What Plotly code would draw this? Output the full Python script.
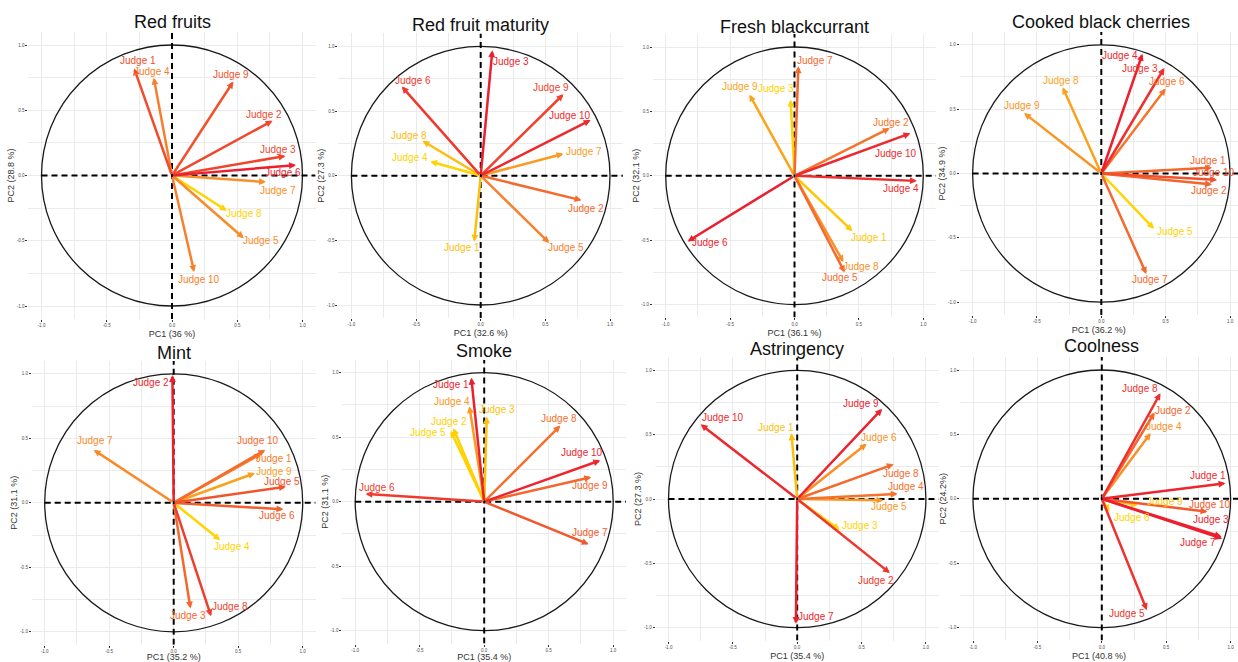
import plotly.graph_objects as go
from plotly.colors import sample_colorscale

W, H = 1238, 662

judges = ["Judge 1", "Judge 2", "Judge 3", "Judge 4", "Judge 5",
          "Judge 6", "Judge 7", "Judge 8", "Judge 9", "Judge 10"]

attributes = ["Red fruits", "Red fruit maturity", "Fresh blackcurrant",
              "Cooked black cherries", "Mint", "Smoke", "Astringency", "Coolness"]

pc1_titles = ["PC1 (36 %)", "PC1 (32.6 %)", "PC1 (36.1 %)", "PC1 (36.2 %)",
              "PC1 (35.2 %)", "PC1 (35.4 %)", "PC1 (35.4 %)", "PC1 (40.8 %)"]
pc2_titles = ["PC2 (28.8 %)", "PC2 (27.3 %)", "PC2 (32.1 %)", "PC2 (34.9 %)",
              "PC2 (31.1 %)", "PC2 (31.1 %)", "PC2 (27.3 %)", "PC2 (24.2%)"]

tick_vals = [-1.0, -0.5, 0.0, 0.5, 1.0]
tick_text = ["-1.0", "-0.5", "0.0", "0.5", "1.0"]

# Variable coordinates (correlations with PC1 / PC2), judges 1..10
red_fruits_pc1 = [-0.29, 0.77, 0.87, -0.14, 0.55, 0.95, 0.72, 0.42, 0.47, 0.17]
red_fruits_pc2 = [0.82, 0.42, 0.15, 0.75, -0.48, 0.08, -0.05, -0.27, 0.72, -0.74]

maturity_pc1 = [-0.05, 0.78, 0.09, -0.39, 0.53, -0.61, 0.64, -0.45, 0.64, 0.85]
maturity_pc2 = [-0.51, -0.19, 0.97, 0.11, -0.52, 0.69, 0.17, 0.27, 0.63, 0.43]

blackcurrant_pc1 = [0.45, 0.74, -0.03, 0.95, 0.39, -0.83, 0.03, 0.38, -0.35, 0.90]
blackcurrant_pc2 = [-0.43, 0.37, 0.59, -0.04, -0.75, -0.51, 0.85, -0.67, 0.63, 0.33]

cherries_pc1 = [0.86, 0.86, 0.49, 0.32, 0.41, 0.50, 0.35, -0.30, -0.60, 0.90]
cherries_pc2 = [0.045, -0.085, 0.82, 0.93, -0.43, 0.66, -0.78, 0.67, 0.47, -0.05]

mint_pc1 = [0.68, -0.01, 0.13, 0.36, 0.87, 0.85, -0.62, 0.29, 0.63, 0.71]
mint_pc2 = [0.38, 0.99, -0.82, -0.29, 0.125, -0.05, 0.41, -0.88, 0.23, 0.41]

smoke_pc1 = [-0.10, -0.24, 0.02, -0.115, -0.26, -0.92, 0.81, 0.59, 0.83, 0.90]
smoke_pc2 = [0.96, 0.57, 0.66, 0.74, 0.55, 0.06, -0.33, 0.59, 0.19, 0.32]

astringency_pc1 = [-0.045, 0.72, 0.33, 0.78, 0.67, 0.54, -0.01, 0.75, 0.66, -0.75]
astringency_pc2 = [0.51, -0.575, -0.24, 0.04, -0.01, 0.43, -0.97, 0.27, 0.70, 0.58]

coolness_pc1 = [0.96, 0.41, 0.93, 0.38, 0.35, 0.06, 0.935, 0.455, 0.28, 0.82]
coolness_pc2 = [0.12, 0.67, -0.295, 0.51, -0.865, -0.10, -0.31, 0.82, -0.05, -0.10]

coords = [
    (red_fruits_pc1, red_fruits_pc2),
    (maturity_pc1, maturity_pc2),
    (blackcurrant_pc1, blackcurrant_pc2),
    (cherries_pc1, cherries_pc2),
    (mint_pc1, mint_pc2),
    (smoke_pc1, smoke_pc2),
    (astringency_pc1, astringency_pc2),
    (coolness_pc1, coolness_pc2),
]

# Panel geometry in pixels: circle centre (cx, cy) and unit radius r
panels = [
    (172.0, 175.5, 130.5), (480.7, 175.7, 129.3), (794.5, 175.8, 128.8), (1101.3, 173.5, 128.7),
    (173.7, 502.8, 129.0), (484.2, 501.7, 129.0), (797.2, 499.0, 128.7), (1101.8, 498.8, 128.8),
]
title_y = [22, 25, 27, 22, 353, 351, 349, 346]

# Repelled label offsets (px, +dy downwards) from each arrow tip
label_shift = [
    [(4, -8), (-8, -6), (-8, -6), (-2, -6), (17, 2), (-13, 7), (12, 8), (17, 3), (-2, -7), (5, 7)],
    [(-12, 6), (4, 8), (19, 11), (-20, -4), (17, 5), (11, -6), (21, -2), (-14, -5), (-12, -7), (-21, -5)],
    [(17, 6), (1, -6), (-15, -11), (-16, 8), (-5, 5), (22, 1), (17, -6), (18, 4), (-9, -8), (-14, 20)],
    [(-4, -7), (-3, 6), (-24, 1), (-22, 2), (21, 3), (1, -7), (4, 6), (-2, -7), (-2, -8), (-3, -7)],
    [(13, 5), (-21, 7), (-2, 7), (12, 6), (-4, -5), (-6, 6), (1, -9), (19, -10), (19, -2), (-7, -9)],
    [(-20, 7), (-4, -7), (10, -7), (-17, -5), (-23, 2), (11, -6), (1, -12), (-1, -7), (-1, 8), (-18, -8)],
    [(-15, -6), (-14, 7), (20, -4), (8, -7), (6, 6), (12, -6), (20, -7), (7, 9), (-21, -5), (22, -7)],
    [(-17, -8), (18, -2), (-11, -17), (13, -7), (-20, 3), (22, 6), (-24, 4), (-20, -5), (27, -4), (3, -7)],
]

gradient = [[0.0, "#FFD400"], [0.45, "#F8892C"], [1.0, "#EC1F2E"]]
FONT = "Liberation Sans, Arial, Helvetica, sans-serif"
GRID = "#EBEBEB"

fig = go.Figure()
annotations = []
shapes = []

for i, name in enumerate(attributes):
    sfx = "" if i == 0 else str(i + 1)
    xa, ya = "x" + sfx, "y" + sfx
    cx, cy, r = panels[i]
    left, right = cx - 1.1 * r, min(cx + 1.1 * r, W)
    top, bottom = cy - 1.1 * r, cy + 1.1 * r
    xr = [(left - cx) / r, (right - cx) / r]
    yr = [(cy - bottom) / r, (cy - top) / r]

    common = dict(
        tickvals=tick_vals, ticktext=tick_text, ticks="outside", ticklen=2,
        tickwidth=1, tickcolor="#333333",
        tickfont=dict(size=4.5, color="#4D4D4D", family=FONT),
        showgrid=True, gridcolor=GRID, gridwidth=0.8, zeroline=False, showline=False,
        minor=dict(tickvals=[-0.75, -0.25, 0.25, 0.75], showgrid=True,
                   gridcolor=GRID, gridwidth=0.6, ticks=""),
        fixedrange=True, automargin=False,
    )
    fig.layout["xaxis" + sfx] = dict(
        common, domain=[left / W, right / W], range=xr, anchor=ya,
        title=dict(text=pc1_titles[i], font=dict(size=9, color="#333333", family=FONT), standoff=3),
    )
    fig.layout["yaxis" + sfx] = dict(
        common, domain=[1 - bottom / H, 1 - top / H], range=yr, anchor=xa,
        title=dict(text=pc2_titles[i], font=dict(size=9, color="#333333", family=FONT), standoff=0),
    )

    # anchor trace so the subplot is always drawn
    fig.add_trace(go.Scatter(x=[0], y=[0], xaxis=xa, yaxis=ya, mode="markers",
                             marker=dict(size=1, opacity=0), hoverinfo="skip", showlegend=False))

    # unit correlation circle and dashed reference axes
    shapes.append(dict(type="circle", xref=xa, yref=ya, x0=-1, y0=-1, x1=1, y1=1,
                       line=dict(color="#1A1A1A", width=1.3), layer="above"))
    shapes.append(dict(type="line", xref=xa, yref=ya, x0=-1.0, x1=xr[1], y0=0, y1=0,
                       line=dict(color="black", width=2, dash="6px,4px"), layer="above"))
    shapes.append(dict(type="line", xref=xa, yref=ya, x0=0, x1=0, y0=yr[0], y1=yr[1],
                       line=dict(color="black", width=2, dash="6px,4px"), layer="above"))

    # colour each variable by its quality of representation on the plane
    pc1, pc2 = coords[i]
    cos2 = [a * a + b * b for a, b in zip(pc1, pc2)]
    lo, hi = min(cos2), max(cos2)
    t = [(c - lo) / (hi - lo) for c in cos2]
    colors = sample_colorscale(gradient, t)

    order = sorted(range(len(judges)), key=lambda j: cos2[j])
    for j in order:
        annotations.append(dict(
            x=pc1[j], y=pc2[j], ax=0, ay=0, xref=xa, yref=ya, axref=xa, ayref=ya,
            showarrow=True, arrowhead=2, arrowsize=0.55, arrowwidth=2.5,
            arrowcolor=colors[j], standoff=0, text="",
        ))
    for j in order:
        dx, dy = label_shift[i][j]
        annotations.append(dict(
            x=pc1[j], y=pc2[j], xref=xa, yref=ya, text=judges[j], showarrow=False,
            xshift=dx, yshift=-dy, xanchor="center", yanchor="middle",
            font=dict(size=10, color=colors[j], family=FONT),
        ))

    annotations.append(dict(
        x=cx / W, y=1 - title_y[i] / H, xref="paper", yref="paper", text=name,
        showarrow=False, xanchor="center", yanchor="middle",
        font=dict(size=18, color="#111111", family=FONT),
    ))

fig.update_layout(
    width=W, height=H, margin=dict(l=0, r=0, t=0, b=0),
    paper_bgcolor="white", plot_bgcolor="white",
    showlegend=False, annotations=annotations, shapes=shapes,
)

fig.write_html("out.html")
